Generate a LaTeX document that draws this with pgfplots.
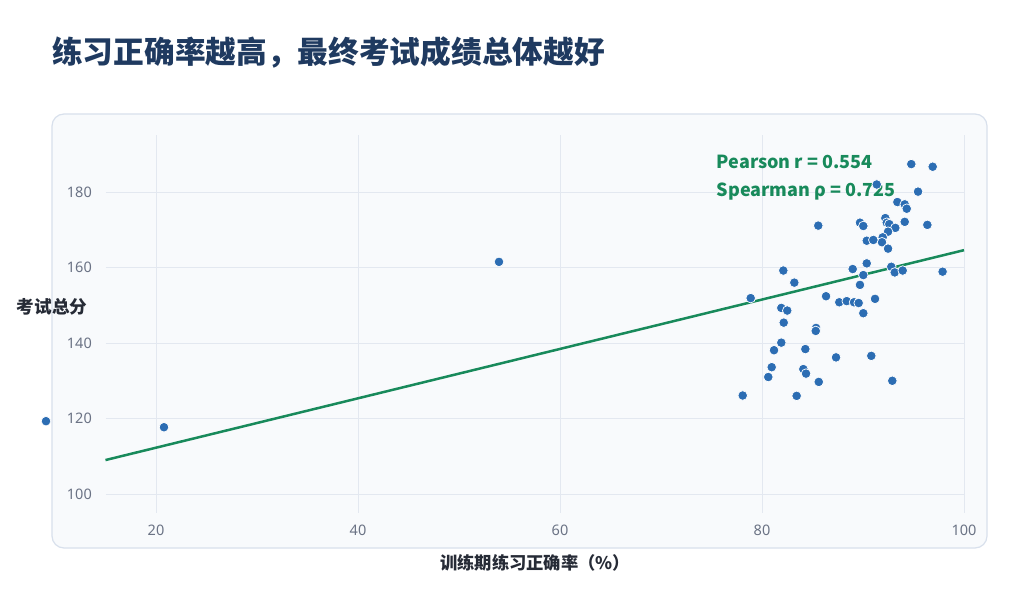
\documentclass[border=0pt]{standalone}
\usepackage{fontspec}
\setmainfont{Noto Sans}
\newfontfamily\cjk{Noto Sans CJK SC}
\usepackage{pgfplots}
\usepackage{pgfplotstable}
\pgfplotsset{compat=1.18}
\definecolor{titlec}{HTML}{1F3A60}
\definecolor{cardfill}{HTML}{F8FAFC}
\definecolor{cardborder}{HTML}{D8E0EC}
\definecolor{gridc}{HTML}{E3E8F0}
\definecolor{tickc}{HTML}{6B7385}
\definecolor{labelc}{HTML}{262B36}
\definecolor{ptc}{HTML}{2C6DB3}
\definecolor{greenc}{HTML}{188A5B}
\pgfplotstableread{
x y
94.78 187.4
96.90 186.7
91.36 182.0
95.45 180.1
93.40 177.35
94.13 176.74
94.33 175.58
89.70 171.87
90.03 171.0
92.21 173.1
92.35 171.87
92.60 171.5
94.13 172.1
96.37 171.3
93.20 170.5
92.48 169.5
91.95 168.0
91.88 166.7
90.37 167.1
91.02 167.3
92.48 165.0
90.37 161.1
88.98 159.6
90.03 158.0
92.80 160.2
93.14 158.7
93.93 159.2
97.88 158.9
85.57 171.1
82.11 159.2
83.20 156.0
78.88 151.9
89.70 155.4
86.34 152.4
87.65 150.8
88.39 151.1
89.11 150.8
89.57 150.6
91.19 151.7
90.03 147.9
81.91 149.3
82.50 148.6
82.15 145.4
85.35 144.0
85.32 143.2
81.91 140.1
81.19 138.1
84.29 138.4
87.33 136.2
90.82 136.6
80.96 133.6
80.62 131.0
84.09 133.1
84.36 131.9
85.62 129.7
92.90 130.0
78.09 126.1
83.43 126.0
53.96 161.5
20.79 117.7
9.11 119.3
}\scores
\begin{document}
\begin{tikzpicture}[x=1pt,y=1pt]
\useasboundingbox (0,0) rectangle (1024,600);
\fill[white] (0,0) rectangle (1024,600);
\draw[cardborder, fill=cardfill, line width=1.2pt, rounded corners=12pt] (52,52) rectangle (987,486);
\node[anchor=west, inner sep=0pt, font=\cjk\bfseries\fontsize{30.7}{36}\selectfont, text=titlec] at (52,548) {练习正确率越高，最终考试成绩总体越好};
\begin{axis}[
  at={(105.5pt,87.1pt)}, anchor=south west,
  scale only axis, width=858.5pt, height=377.5pt,
  xmin=15, xmax=100, ymin=95, ymax=195,
  xtick={20,40,60,80,100}, ytick={100,120,140,160,180},
  grid=major, major grid style={gridc, line width=0.8pt},
  axis line style={draw=none},
  major tick length=0pt,
  tick label style={font=\fontsize{14.5}{17}\selectfont, text=tickc, inner sep=0pt},
  /pgf/number format/assume math mode=true,
  xticklabel shift=12pt, yticklabel shift=13.5pt,
  clip=false,
  xlabel={训练期练习正确率（\%）},
  xlabel style={font=\cjk\bfseries\fontsize{17.3}{20}\selectfont, text=labelc, at={(rel axis cs:0.5005,-0.132)}, anchor=center, inner sep=0pt},
  ylabel={考试总分},
  ylabel style={font=\cjk\bfseries\fontsize{17.6}{20}\selectfont, text=labelc, at={(rel axis cs:-0.0623,0.545)}, anchor=center, rotate=-90, inner sep=0pt},
]
\addplot[line width=2.5pt, color=greenc] coordinates {(15,109.0) (100,164.6)};
\addplot[only marks, mark=*, mark size=4.8pt, mark options={fill=ptc, draw=white, line width=0.7pt}] table[x=x,y=y] {\scores};
\node[anchor=west, inner sep=0pt, font=\cjk\bfseries\fontsize{18}{20}\selectfont, text=greenc] at (axis cs:75.5,187.9) {Pearson r = 0.554};
\node[anchor=west, inner sep=0pt, font=\cjk\bfseries\fontsize{18}{20}\selectfont, text=greenc] at (axis cs:75.5,180.0) {Spearman ρ = 0.725};
\end{axis}
\end{tikzpicture}
\end{document}
